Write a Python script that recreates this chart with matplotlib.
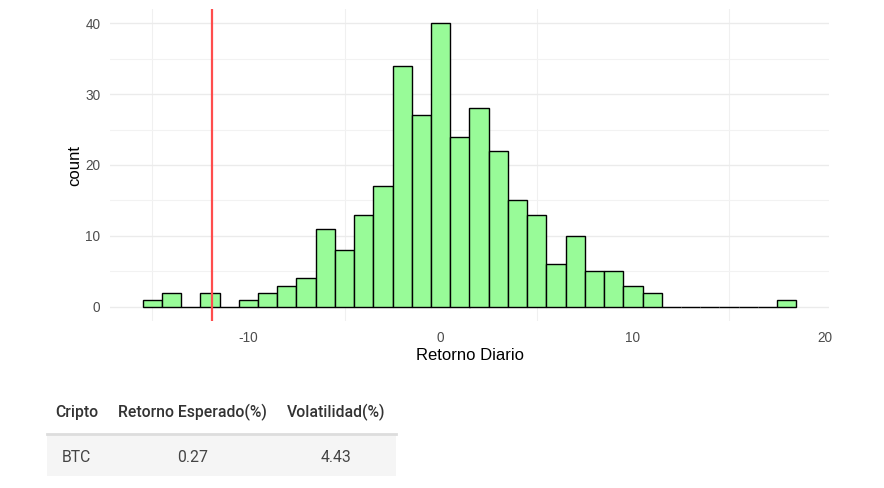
import matplotlib
matplotlib.use("Agg")
import matplotlib.pyplot as plt
from matplotlib.patches import Rectangle
import numpy as np

plt.rcParams["font.family"] = ["Liberation Sans", "DejaVu Sans"]
plt.rcParams["axes.unicode_minus"] = False

# histogram of daily returns (bin width 1, centred on integers)
bin_centers = np.arange(-15, 19)
counts = [1, 2, 0, 2, 0, 1, 2, 3, 4, 11,
          8, 13, 17, 34, 27, 40, 24, 28, 22, 15,
          13, 6, 10, 5, 5, 3, 2,
          0, 0, 0, 0, 0, 0,
          1]
var_line = -11.9

table_cols = ["Cripto", "Retorno Esperado(%)", "Volatilidad(%)"]
table_row = ["BTC", "0.27", "4.43"]

W, H = 884, 488
fig = plt.figure(figsize=(W / 100, H / 100), dpi=100)
ax = fig.add_axes([110 / W, 1 - 321 / H, 719 / W, 312 / H])

ax.bar(bin_centers, counts, width=1.0, color="#98fb98", edgecolor="black",
       linewidth=1.0, zorder=3)
ax.axvline(var_line, color="#ff4d4d", linewidth=1.6, zorder=4)

ax.set_xlim(-17.2, 20.2)
ax.set_ylim(-2, 42)
ax.set_xticks([-10, 0, 10, 20])
ax.set_xticks([-15, -5, 5, 15], minor=True)
ax.set_yticks([0, 10, 20, 30, 40])
ax.set_yticks([5, 15, 25, 35], minor=True)
ax.grid(axis="y", which="major", color="#ebebeb", linewidth=1.0, zorder=0)
ax.grid(axis="y", which="minor", color="#f2f2f2", linewidth=0.8, zorder=0)
ax.grid(axis="x", which="minor", color="#f0f0f0", linewidth=0.8, zorder=0)
for s in ax.spines.values():
    s.set_visible(False)
ax.tick_params(which="both", length=0, labelsize=9.8, labelcolor="#4d4d4d", pad=7)

fig.text(470 / W, 1 - 355 / H, "Retorno Diario", ha="center", va="center",
         fontsize=12, color="black")
fig.text(75 / W, 1 - 165 / H, "count", ha="center", va="center", rotation=90,
         fontsize=12, color="black")

# summary table under the chart
tax = fig.add_axes([0, 0, 1, 1])
tax.set_xlim(0, W)
tax.set_ylim(H, 0)
tax.axis("off")
tax.add_patch(Rectangle((47, 435), 349, 41, facecolor="#f5f5f5", edgecolor="none"))
tax.plot([47, 396], [434, 434], color="#dddddd", linewidth=2)

head_x = [77, 192, 336]
for x, t in zip(head_x, table_cols):
    tax.text(x, 412, t, ha="center", va="center", fontsize=11.3,
             family="Roboto", fontweight="medium", color="#333333")
tax.text(62, 457, table_row[0], ha="left", va="center", fontsize=11.3,
         family="Roboto", color="#444444")
tax.text(193, 457, table_row[1], ha="center", va="center", fontsize=11.3,
         family="Roboto", color="#444444")
tax.text(336, 457, table_row[2], ha="center", va="center", fontsize=11.3,
         family="Roboto", color="#444444")

fig.savefig("out.png", dpi=100)
